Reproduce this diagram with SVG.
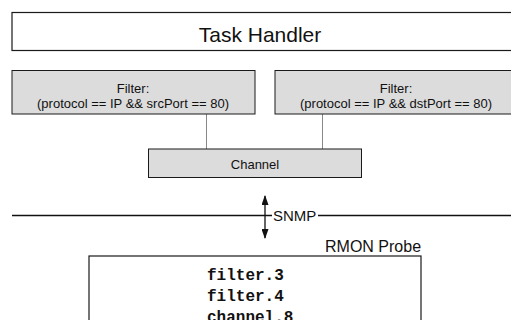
<svg xmlns="http://www.w3.org/2000/svg" width="511" height="320" viewBox="0 0 511 320">
  <style>
    .box { fill: #ffffff; stroke: #1a1a1a; stroke-width: 1.2; }
    .gbox { fill: #dcdcdc; stroke: #1a1a1a; stroke-width: 1; }
    .sans { font-family: "Liberation Sans", Arial, sans-serif; fill: #111; }
    .mono { font-family: "Liberation Mono", "Courier New", monospace; font-weight: bold; fill: #111; }
    .link { stroke: #888; stroke-width: 1; fill: none; }
    .wire { stroke: #111; stroke-width: 1.3; fill: none; }
  </style>
  <defs>
    <marker id="head" viewBox="0 0 10 10" refX="9" refY="5" markerWidth="10" markerHeight="7" markerUnits="userSpaceOnUse" orient="auto-start-reverse" preserveAspectRatio="none">
      <path d="M0,0 L10,5 L0,10 z" fill="#111"/>
    </marker>
  </defs>
  <rect width="511" height="320" fill="#ffffff"/>

  <g id="task-handler">
    <rect class="box" x="12" y="12.5" width="520" height="38"/>
    <text class="sans" x="260" y="41.5" font-size="21" text-anchor="middle">Task Handler</text>
  </g>

  <g id="connectors">
    <line class="link" x1="206.5" y1="114" x2="206.5" y2="149"/>
    <line class="link" x1="322.5" y1="114" x2="322.5" y2="149"/>
    <line class="wire" x1="12" y1="215.5" x2="272" y2="215.5"/>
    <line class="wire" x1="318" y1="215.5" x2="520" y2="215.5"/>
    <line class="wire" x1="265" y1="215" x2="265" y2="196" marker-end="url(#head)"/>
    <line class="wire" x1="265" y1="215" x2="265" y2="238" marker-end="url(#head)"/>
    <text class="sans" x="273" y="221" font-size="15">SNMP</text>
  </g>

  <g id="filter-src">
    <rect class="gbox" x="12" y="70.5" width="243" height="43.5"/>
    <text class="sans" x="133" y="93" font-size="13" text-anchor="middle">Filter:</text>
    <text class="sans" x="133" y="108" font-size="13" text-anchor="middle">(protocol == IP &amp;&amp; srcPort == 80)</text>
  </g>

  <g id="filter-dst">
    <rect class="gbox" x="275" y="70.5" width="243" height="43.5"/>
    <text class="sans" x="396" y="93" font-size="13" text-anchor="middle">Filter:</text>
    <text class="sans" x="396" y="108" font-size="13" text-anchor="middle">(protocol == IP &amp;&amp; dstPort == 80)</text>
  </g>

  <g id="channel">
    <rect class="gbox" x="148.5" y="149" width="213" height="28.5"/>
    <text class="sans" x="255" y="169" font-size="13" text-anchor="middle">Channel</text>
  </g>

  <g id="rmon-probe">
    <text class="sans" x="325" y="251.5" font-size="16">RMON Probe</text>
    <rect class="box" x="89" y="256" width="332" height="80"/>
    <text class="mono" x="207" y="280" font-size="16">filter.3</text>
    <text class="mono" x="207" y="301" font-size="16">filter.4</text>
    <text class="mono" x="207" y="322" font-size="16">channel.8</text>
  </g>
</svg>
